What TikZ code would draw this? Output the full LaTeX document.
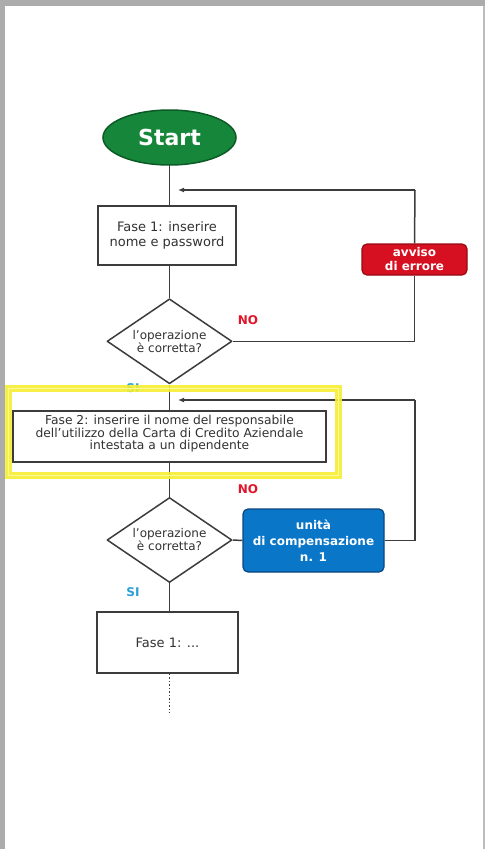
\documentclass[tikz,border=0pt]{standalone}
\usepackage{fontspec}
\setmainfont{DejaVu Sans}
\usetikzlibrary{shapes.geometric,arrows.meta}

\definecolor{framegray}{RGB}{172,172,172}
\definecolor{linegray}{RGB}{60,60,60}
\definecolor{boxtext}{RGB}{50,50,50}
\definecolor{startgreen}{RGB}{22,135,58}
\definecolor{startedge}{RGB}{12,90,38}
\definecolor{errred}{RGB}{214,16,32}
\definecolor{erredge}{RGB}{150,10,20}
\definecolor{unitblue}{RGB}{10,118,200}
\definecolor{unitedge}{RGB}{10,70,130}
\definecolor{nored}{RGB}{225,20,40}
\definecolor{siblue}{RGB}{40,160,215}
\definecolor{hiyellow}{RGB}{245,238,50}
\definecolor{hilight}{RGB}{252,250,170}

\tikzset{
  flow/.style={draw=linegray, line width=1.5pt},
  backarrow/.style={flow, -{Latex[length=6pt,width=5pt]}},
  stepbox/.style={rectangle, draw=linegray, line width=1.4pt, fill=white,
    text=boxtext, align=center, inner sep=0pt},
  decision/.style={diamond, aspect=1.48, draw=linegray, line width=1.5pt,
    line join=round, fill=white, text=boxtext, align=center, inner sep=0pt,
    minimum width=125pt, minimum height=85pt,
    font=\fontsize{12}{13}\selectfont},
  flag/.style={rectangle, rounded corners=5pt, text=white, align=center,
    line width=1.2pt, inner sep=0pt, font=\bfseries},
  answer/.style={font=\bfseries\fontsize{12}{14}\selectfont}
}

\begin{document}
\begin{tikzpicture}[x=1pt,y=-1pt]
\useasboundingbox (0,0) rectangle (485,849);
\fill[white] (0,0) rectangle (485,849);

% page frame
\fill[framegray] (0,0) rectangle (485,6);
\fill[framegray] (0,0) rectangle (5,849);
\fill[framegray!80] (483,6) rectangle (485,849);

% nodes
\node[ellipse, fill=startgreen, draw=startedge, line width=1.5pt,
  minimum width=133pt, minimum height=55pt, inner sep=0pt, text=white,
  font=\bfseries\fontsize{22}{24}\selectfont] (start) at (169.5,137.5) {Start};

\node[stepbox, minimum width=138pt, minimum height=59pt,
  font=\fontsize{13}{15}\selectfont] (fase1) at (167,235.5)
  {Fase 1: inserire\\nome e password};

\node[flag, fill=errred, draw=erredge, minimum width=105pt, minimum height=31pt,
  font=\bfseries\fontsize{12}{14}\selectfont] (err) at (414.5,259.5)
  {avviso\\di errore};

\node[decision] (dec1) at (169.5,341.3) {l’operazione\\è corretta?};

\node[stepbox, minimum width=313pt, minimum height=51pt,
  font=\fontsize{12.3}{11.8}\selectfont] (fase2) at (169.5,436.5)
  {Fase 2: inserire il nome del responsabile\\dell’utilizzo della Carta di Credito Aziendale\\intestata a un dipendente\\[-3pt]};

\node[decision] (dec2) at (169.5,540) {l’operazione\\è corretta?};

\node[flag, fill=unitblue, draw=unitedge, minimum width=141pt, minimum height=63pt,
  font=\bfseries\fontsize{12}{16}\selectfont] (unit) at (313.5,540.5)
  {unità\\di compensazione\\n. 1};

\node[stepbox, minimum width=141pt, minimum height=61pt,
  font=\fontsize{13}{15}\selectfont] (fase3) at (167.5,642.5) {Fase 1: ...};

% junction points on the main line
\coordinate (ret1) at (415,190);
\coordinate (tip1) at (178,190);
\coordinate (ret2) at (415,400);
\coordinate (tip2) at (178,400);
\coordinate (tail) at (169.5,713);

% labels
\node[answer, text=nored] (no1) at (248,320) {NO};
\node[answer, text=siblue] (si1) at (133,388) {SI};
\node[answer, text=nored] (no2) at (248,489) {NO};
\node[answer, text=siblue] (si2) at (133,592) {SI};

% main flow
\draw[flow] (start.south) -- (fase1.north -| start.south);
\draw[flow] (fase1.south -| dec1.north) -- (dec1.north);
\draw[flow] (dec1.south) -- (fase2.north -| dec1.south);
\draw[flow] (fase2.south -| dec2.north) -- (dec2.north);
\draw[flow] (dec2.south) -- (fase3.north -| dec2.south);
\draw[flow, dotted, line width=1.5pt] (fase3.south -| tail) -- (tail);

% first loop: wrong credentials
\draw[flow] (dec1.east) -- (dec1.east -| err.south) -- (err.south);
\draw[flow] (err.north) -- (ret1);
\draw[backarrow] (ret1) -- (tip1);

% second loop: compensation unit
\draw[flow] (dec2.east) -- (unit.west);
\draw[flow] (unit.east) -- (unit.east -| ret2) -- (ret2);
\draw[backarrow] (ret2) -- (tip2);

% highlight around phase 2
\draw[hiyellow, line width=7.5pt, opacity=0.9] (8.5,388.5) rectangle (338.5,475.5);
\draw[hilight, line width=1.2pt, opacity=0.9] (8.5,388.5) rectangle (338.5,475.5);
\end{tikzpicture}
\end{document}
